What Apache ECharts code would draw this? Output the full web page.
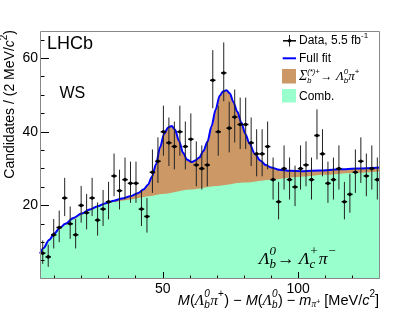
<!DOCTYPE html>
<html><head><meta charset="utf-8">
<script src="https://cdn.jsdelivr.net/npm/echarts@6/dist/echarts.min.js"></script>
<style>html,body{margin:0;padding:0;background:#fff}#c{width:399px;height:309px}</style>
</head><body><div id="c"></div>
<script>
// ---- data ----
const binCenters = [5.68, 7.71, 9.73, 11.76, 13.78, 15.81, 17.83, 19.86, 21.88, 23.91, 25.93, 27.96, 29.98, 32.01, 34.03, 36.06, 38.08, 40.11, 42.13, 44.16, 46.18, 48.21, 50.23, 52.26, 54.28, 56.31, 58.33, 60.36, 62.38, 64.41, 66.43, 68.46, 70.48, 72.51, 74.53, 76.56, 78.58, 80.61, 82.63, 84.66, 86.68, 88.71, 90.73, 92.76, 94.78, 96.81, 98.83, 100.86, 102.88, 104.91, 106.93, 108.96, 110.98, 113.01, 115.03, 117.06, 119.08, 121.11, 123.13, 125.16, 127.18, 129.21];
const counts = [7,6,12,14,22,15,12,20,18,22,16,19,21,28,24,27,26,26,19,17,29,32,40,37,36,40,36,38,31,30,31,54,40,56,41,44,42,42,37,34,34,36,27,21,30,27,25,30,31,27,39,34,26,27,30,21,23,29,32,28,30,27];
const errHigh = [3.5,3.3,4.3,4.6,5.5,4.7,4.3,5.3,5.1,5.5,4.8,5.2,5.4,6.1,5.7,6.0,5.9,5.9,5.2,5.0,6.2,6.5,7.1,6.9,6.8,7.1,6.8,7.0,6.4,6.3,6.4,8.2,7.1,8.3,7.2,7.5,7.3,7.3,6.9,6.7,6.7,6.8,6.0,5.4,6.3,6.0,5.8,6.3,6.4,6.0,7.1,6.7,5.9,6.0,6.3,5.4,5.6,6.2,6.5,6.1,6.3,6.0];
const errLow = [2.9,2.7,3.7,4.0,4.9,4.1,3.7,4.7,4.5,4.9,4.2,4.6,4.8,5.5,5.1,5.4,5.3,5.3,4.6,4.4,5.6,5.9,6.5,6.3,6.2,6.5,6.2,6.4,5.8,5.7,5.8,7.6,6.5,7.7,6.6,6.9,6.7,6.7,6.3,6.1,6.1,6.2,5.4,4.8,5.7,5.4,5.2,5.7,5.8,5.4,6.5,6.1,5.3,5.4,5.7,4.8,5.0,5.6,5.9,5.5,5.7,5.4];
const fitX = [4.67, 6, 8, 10, 12, 14, 17, 20, 23, 26, 29, 32, 35, 38, 41, 43, 44.5, 46, 47.5, 49, 50.5, 52, 53.3, 54.5, 56, 57.5, 59, 60.6, 62, 63.5, 65, 66.5, 68, 69.5, 71, 72.3, 73.5, 74.8, 76, 77.5, 79, 80.5, 82, 84, 86, 88, 90, 93, 97, 102, 108, 115, 122, 130.2];
const fitY = [6.9, 8.4, 10.6, 12.4, 13.9, 15.0, 16.6, 17.8, 18.9, 19.8, 20.6, 21.3, 21.9, 22.5, 23.4, 24.4, 25.6, 27.8, 31.2, 35.8, 39.5, 41.2, 41.6, 40.6, 37.5, 34.3, 32.4, 31.8, 32.2, 33.0, 34.8, 37.3, 41.5, 46.0, 49.8, 51.0, 51.3, 50.4, 48.2, 45.5, 42.5, 39.4, 36.8, 34.0, 32.2, 31.0, 30.3, 29.7, 29.4, 29.3, 29.5, 29.8, 30.0, 30.3];
const bkgX = [4.67, 6, 8, 10, 12, 14, 17, 20, 23, 26, 29, 32, 35, 38, 40, 45, 50, 60, 70, 80, 90, 100, 110, 120, 130.2];
const bkgY = [6.7, 8.2, 10.4, 12.2, 13.6, 14.7, 16.2, 17.4, 18.5, 19.5, 20.3, 20.9, 21.3, 21.6, 21.9, 22.5, 23.1, 24.3, 25.3, 26.2, 27.0, 27.7, 28.3, 28.8, 29.2];
const xRange = [4.67, 130.2];
const yRange = [0, 67.4];
const xTicksMajor = [50, 100];
const xTicksMinor = [10, 20, 30, 40, 60, 70, 80, 90, 110, 120];
const yTicksMajor = [20, 40, 60];
const yTicksMinor = [5, 10, 15, 25, 30, 35, 45, 50, 55, 65];
const halfBin = 1.01;

// ---- styles ----
const SANS = 'Liberation Sans', SERIF = 'Liberation Serif';
const BROWN = '#cc9966', GREEN = '#99ffcc', BLUE = '#0000ff';
const G = {left: 40, right: 19, top: 31, bottom: 30};

const ctx = document.createElement('canvas').getContext('2d');
function fs(f){ return (f.italic ? 'italic ' : '') + f.size + 'px "' + f.family + '"'; }
function measure(t, f){ ctx.font = fs(f); return ctx.measureText(t).width; }
function run(tokens, x0, yc, align, base, ratio){
  ratio = ratio || 0.7;
  const items = []; let x = 0;
  tokens.forEach(tk => {
    if (tk.t != null){
      const f = Object.assign({}, base, tk.f || {});
      items.push({text: tk.t, f, x, dy: (tk.dy || 0) * base.size});
      x += measure(tk.t, f) + (tk.g || 0);
    } else {
      const f = Object.assign({}, base, {size: Math.round(base.size * ratio)}, tk.f || {});
      let w = 0;
      if (tk.sup != null){ items.push({text: tk.sup, f, x, dy: -0.42 * base.size}); w = Math.max(w, measure(tk.sup, f)); }
      if (tk.sub != null){ items.push({text: tk.sub, f, x, dy: 0.33 * base.size}); w = Math.max(w, measure(tk.sub, f)); }
      x += w + (tk.g || 0);
    }
  });
  const off = align === 'right' ? -x : align === 'center' ? -x / 2 : 0;
  return items.map(it => ({type: 'text', x: x0 + off + it.x, y: yc + it.dy, z: 200,
    style: {text: it.text, font: fs(it.f), fill: '#000', textAlign: 'left', textVerticalAlign: 'middle', align: 'left', verticalAlign: 'middle'}}));
}

const it = {italic: true};
const gk = {family: SERIF, italic: true, size: 15.5};
const xTitle = run([
  {t: 'M', f: it}, {t: '('}, {t: 'Λ', f: gk}, {sup: '0', sub: 'b', f: it, g: 0.5}, {t: 'π', f: gk}, {sup: '+', g: 0.5},
  {t: ') − '}, {t: 'M', f: it}, {t: '('}, {t: 'Λ', f: gk}, {sup: '0', sub: 'b', f: it, g: 0.5}, {t: ') − '},
  {t: 'm', f: it}, {t: 'π', f: {family: SERIF, italic: true, size: 9.5}, dy: 0.3}, {t: '+', f: {size: 7}, dy: 0.12},
  {t: ' [MeV/'}, {t: 'c', f: it}, {sup: '2'}, {t: ']'}
], 379, 300.5, 'right', {size: 14.5, family: SANS, italic: false}, 0.7);

const yTitle = {type: 'group', x: 10.5, y: 30, rotation: Math.PI / 2, z: 200, children: run([
  {t: 'Candidates / (2 MeV/'}, {t: 'c', f: it}, {sup: '2'}, {t: ')'}
], 0, 0, 'right', {size: 14, family: SANS, italic: false}, 0.68)};

const decay = run([
  {t: 'Λ'}, {sup: '0', sub: 'b', g: 1}, {t: '→ ', f: {italic: false}}, {t: 'Λ'}, {sup: '+', sub: 'c', g: 0.5}, {t: 'π'}, {sup: '−'}
], 259, 259.3, 'left', {size: 17.5, family: SERIF, italic: true}, 0.72);

const legSigma = run([
  {t: 'Σ', f: {family: SERIF, italic: true, size: 14}}, {sup: '(*)+', sub: 'b', f: {size: 7.5, italic: true}, g: 1},
  {t: '→ '}, {t: 'Λ', f: {family: SERIF, italic: true, size: 13}}, {sup: '0', sub: 'b', f: {size: 8, italic: true}}, {t: 'π', f: {family: SERIF, italic: true, size: 13}}, {sup: '+', f: {size: 8}}
], 299, 76.8, 'left', {size: 12, family: SANS, italic: false});
const legData = run([{t: 'Data, 5.5 fb'}, {sup: '-1', f: {size: 8}}], 299, 40.8, 'left', {size: 12, family: SANS, italic: false});
const legFit = run([{t: 'Full fit'}], 299, 58.3, 'left', {size: 12, family: SANS, italic: false});
const legComb = run([{t: 'Comb.'}], 299, 96.3, 'left', {size: 12, family: SANS, italic: false});

const W = 399, H = 309;
const graphics = [].concat(
  [{type: 'rect', z: 150, shape: {x: G.left + 0.5, y: G.top + 0.5, width: W - G.left - G.right - 1, height: H - G.top - G.bottom - 1}, style: {fill: 'none', stroke: '#888', lineWidth: 1}}],
  [{type: 'text', x: 47, y: 44, z: 200, style: {text: 'LHCb', font: '18px "Liberation Sans"', fill: '#000', textVerticalAlign: 'middle', verticalAlign: 'middle'}},
   {type: 'text', x: 59.5, y: 94, z: 200, style: {text: 'WS', font: '16px "Liberation Sans"', fill: '#000', textVerticalAlign: 'middle', verticalAlign: 'middle'}}],
  // legend glyphs
  [{type: 'line', z: 200, shape: {x1: 289.5, y1: 35, x2: 289.5, y2: 46.5}, style: {stroke: '#222', lineWidth: 1}},
   {type: 'line', z: 200, shape: {x1: 283, y1: 40.8, x2: 296, y2: 40.8}, style: {stroke: '#000', lineWidth: 1.5}},
   {type: 'circle', z: 201, shape: {cx: 289.5, cy: 40.8, r: 1.8}, style: {fill: '#000'}},
   {type: 'line', z: 200, shape: {x1: 282.7, y1: 58.3, x2: 296, y2: 58.3}, style: {stroke: BLUE, lineWidth: 2}},
   {type: 'rect', z: 200, shape: {x: 282, y: 69, width: 14, height: 14.5}, style: {fill: BROWN}},
   {type: 'rect', z: 200, shape: {x: 282, y: 89, width: 14, height: 13.5}, style: {fill: GREEN}}],
  legData, legFit, legSigma, legComb, decay, xTitle, [yTitle]
);

const tickLbl = {fontSize: 14, color: '#000', fontFamily: SANS};
function axes(kind, range, major, minor, majLen, minLen){
  const common = {type: 'value', min: range[0], max: range[1], z: 10, splitLine: {show: false}, axisLine: {show: false},
    position: kind === 'x' ? 'bottom' : 'left'};
  return [
    Object.assign({}, common, {axisTick: {show: true, inside: true, length: majLen, customValues: major, lineStyle: {color: '#000', width: 1}},
      axisLabel: Object.assign({customValues: major, margin: kind === 'x' ? 3 : 2}, tickLbl)}),
    Object.assign({}, common, {axisTick: {show: true, inside: true, length: minLen, customValues: minor, lineStyle: {color: '#000', width: 1}},
      axisLabel: {show: false}})
  ];
}

const chart = echarts.init(document.getElementById('c'), null, {renderer: 'canvas'});
chart.setOption({
  animation: false,
  backgroundColor: '#fff',
  grid: {left: G.left, right: G.right, top: G.top, bottom: G.bottom, outerBoundsMode: 'none', containLabel: false},
  xAxis: axes('x', xRange, xTicksMajor, xTicksMinor, 7, 3.5),
  yAxis: axes('y', yRange, yTicksMajor, yTicksMinor, 9, 4.5),
  series: [
    {type: 'line', z: 1, data: fitX.map((x, i) => [x, fitY[i]]), smooth: 0.3, smoothMonotone: 'x', showSymbol: false,
      lineStyle: {width: 0}, areaStyle: {color: BROWN, opacity: 1}, silent: true},
    {type: 'line', z: 2, data: bkgX.map((x, i) => [x, bkgY[i]]), smooth: 0.3, smoothMonotone: 'x', showSymbol: false,
      lineStyle: {width: 0}, areaStyle: {color: GREEN, opacity: 1}, silent: true},
    {type: 'line', z: 3, data: fitX.map((x, i) => [x, fitY[i]]), smooth: 0.3, smoothMonotone: 'x', showSymbol: false,
      lineStyle: {width: 2, color: BLUE}, silent: true},
    {type: 'custom', z: 4, silent: true, clip: true,
      data: binCenters.map((x, i) => [x, counts[i], errHigh[i], errLow[i]]),
      encode: {x: 0, y: 1},
      renderItem: function(params, api){
        const x = api.value(0), y = api.value(1), up = api.value(2), dn = api.value(3);
        const p = api.coord([x, y]), t = api.coord([x, y + up]), b = api.coord([x, y - dn]);
        const hw = api.size([halfBin, 0])[0];
        return {type: 'group', children: [
          {type: 'line', shape: {x1: p[0], y1: t[1], x2: p[0], y2: b[1]}, style: {stroke: '#222', lineWidth: 1}},
          {type: 'line', shape: {x1: p[0] - hw, y1: p[1], x2: p[0] + hw, y2: p[1]}, style: {stroke: '#000', lineWidth: 1.5}},
          {type: 'circle', shape: {cx: p[0], cy: p[1], r: 1.8}, style: {fill: '#000'}}
        ]};
      }}
  ],
  graphic: graphics
});
</script></body></html>
